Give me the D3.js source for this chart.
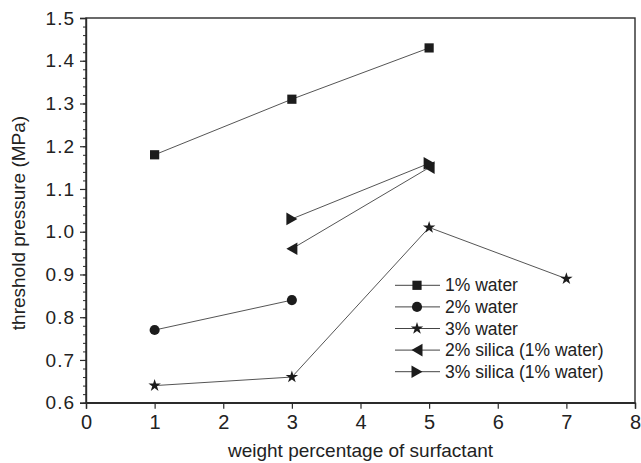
<!DOCTYPE html>
<html>
<head>
<meta charset="utf-8">
<script src="https://cdn.jsdelivr.net/npm/d3@7"></script>
<style>
  html, body { margin: 0; padding: 0; background: #fff; }
  svg { display: block; font-family: "Liberation Sans", Arial, sans-serif; }
</style>
</head>
<body>
<svg id="chart" width="641" height="463"></svg>
<script>
// Threshold pressure vs. surfactant content
const seriesNames = ["1% water", "2% water", "3% water", "2% silica (1% water)", "3% silica (1% water)"];
const seriesShapes = ["square", "circle", "star", "triLeft", "triRight"];

const water1X = [1, 3, 5];
const water1Y = [1.18, 1.31, 1.43];
const water2X = [1, 3];
const water2Y = [0.77, 0.84];
const water3X = [1, 3, 5, 7];
const water3Y = [0.64, 0.66, 1.01, 0.89];
const silica2X = [3, 5];
const silica2Y = [0.96, 1.15];
const silica3X = [3, 5];
const silica3Y = [1.03, 1.16];

const xTickValues = [0, 1, 2, 3, 4, 5, 6, 7, 8];
const yTickValues = [0.6, 0.7, 0.8, 0.9, 1.0, 1.1, 1.2, 1.3, 1.4, 1.5];
const xTitle = "weight percentage of surfactant";
const yTitle = "threshold pressure (MPa)";

const seriesX = [water1X, water2X, water3X, silica2X, silica3X];
const seriesY = [water1Y, water2Y, water3Y, silica2Y, silica3Y];

const W = 641, H = 463;
const plot = { left: 86, right: 635, top: 18, bottom: 402.7 };

const svg = d3.select("#chart");
const x = d3.scaleLinear().domain([0, 8]).range([plot.left, plot.right]);
const y = d3.scaleLinear().domain([0.6, 1.5]).range([plot.bottom, plot.top]);

const axisColor = "#2b2b2b";
const lineColor = "#555";
const markColor = "#1c1c1c";

// marker shapes
function shapePath(kind) {
  switch (kind) {
    case "square": return "M-4.6,-4.6H4.6V4.6H-4.6Z";
    case "circle": return d3.symbol(d3.symbolCircle, 80)();
    case "star": return d3.symbol(d3.symbolStar, 48)();
    case "triLeft": return "M-5.5,0L5.5,-6.3L5.5,6.3Z";
    case "triRight": return "M5.5,0L-5.5,-6.3L-5.5,6.3Z";
  }
}

// frame
svg.append("rect")
  .attr("x", plot.left).attr("y", plot.top)
  .attr("width", plot.right - plot.left).attr("height", plot.bottom - plot.top)
  .attr("fill", "none").attr("stroke", axisColor).attr("stroke-width", 1.4);

// x axis
const xAxis = d3.axisBottom(x).tickValues(xTickValues).tickFormat(d3.format("d"))
  .tickSize(6).tickPadding(6);
const gx = svg.append("g").attr("transform", `translate(0,${plot.bottom})`).call(xAxis);
gx.select(".domain").attr("stroke", axisColor).attr("stroke-width", 1.4);
gx.selectAll(".tick line").attr("stroke", axisColor).attr("stroke-width", 1.2);
gx.selectAll(".tick text").attr("fill", "#222").style("font-size", "20px")
  .style("font-family", "'Liberation Sans', Arial, sans-serif");

// y axis: minor ticks
const gyMinor = svg.append("g").attr("transform", `translate(${plot.left},0)`)
  .call(d3.axisLeft(y).ticks(45).tickSize(3).tickFormat(""));
gyMinor.select(".domain").remove();
gyMinor.selectAll(".tick line").attr("stroke", axisColor).attr("stroke-width", 1);

const gy = svg.append("g").attr("transform", `translate(${plot.left},0)`)
  .call(d3.axisLeft(y).tickValues(yTickValues).tickFormat(d3.format(".1f")).tickSize(6).tickPadding(5));
gy.select(".domain").attr("stroke", axisColor).attr("stroke-width", 1.4);
gy.selectAll(".tick line").attr("stroke", axisColor).attr("stroke-width", 1.2);
gy.selectAll(".tick text").attr("fill", "#222").style("font-size", "19px")
  .style("letter-spacing", "1px")
  .style("font-family", "'Liberation Sans', Arial, sans-serif");

// axis titles
svg.append("text")
  .attr("x", (plot.left + plot.right) / 2).attr("y", 457)
  .attr("text-anchor", "middle").attr("fill", "#222")
  .style("font-size", "19px").text(xTitle);
svg.append("text")
  .attr("transform", `translate(25,223) rotate(-90)`)
  .attr("text-anchor", "middle").attr("fill", "#222")
  .style("font-size", "19px").text(yTitle);

// series lines
const line = d3.line().x(d => x(d[0])).y(d => y(d[1]));
seriesNames.forEach((name, i) => {
  const pts = seriesX[i].map((v, j) => [v, seriesY[i][j]]);
  svg.append("path").datum(pts)
    .attr("d", line).attr("fill", "none")
    .attr("stroke", lineColor).attr("stroke-width", 1);
});

// series markers
seriesNames.forEach((name, i) => {
  const pts = seriesX[i].map((v, j) => [v, seriesY[i][j]]);
  svg.append("g").selectAll("path").data(pts).join("path")
    .attr("d", shapePath(seriesShapes[i]))
    .attr("transform", d => `translate(${x(d[0])},${y(d[1])})`)
    .attr("fill", markColor);
});

// legend
const legend = svg.append("g").attr("transform", "translate(395,285.3)");
seriesNames.forEach((name, i) => {
  const g = legend.append("g").attr("transform", `translate(0,${i * 21.6})`);
  g.append("line").attr("x1", 0).attr("x2", 45).attr("y1", 0).attr("y2", 0)
    .attr("stroke", "#444").attr("stroke-width", 1);
  g.append("path").attr("d", shapePath(seriesShapes[i]))
    .attr("transform", "translate(22,0)").attr("fill", markColor);
  g.append("text").attr("x", 50).attr("y", 0).attr("dy", "0.35em")
    .attr("fill", "#222").style("font-size", "17.5px").text(name);
});
</script>
</body>
</html>
